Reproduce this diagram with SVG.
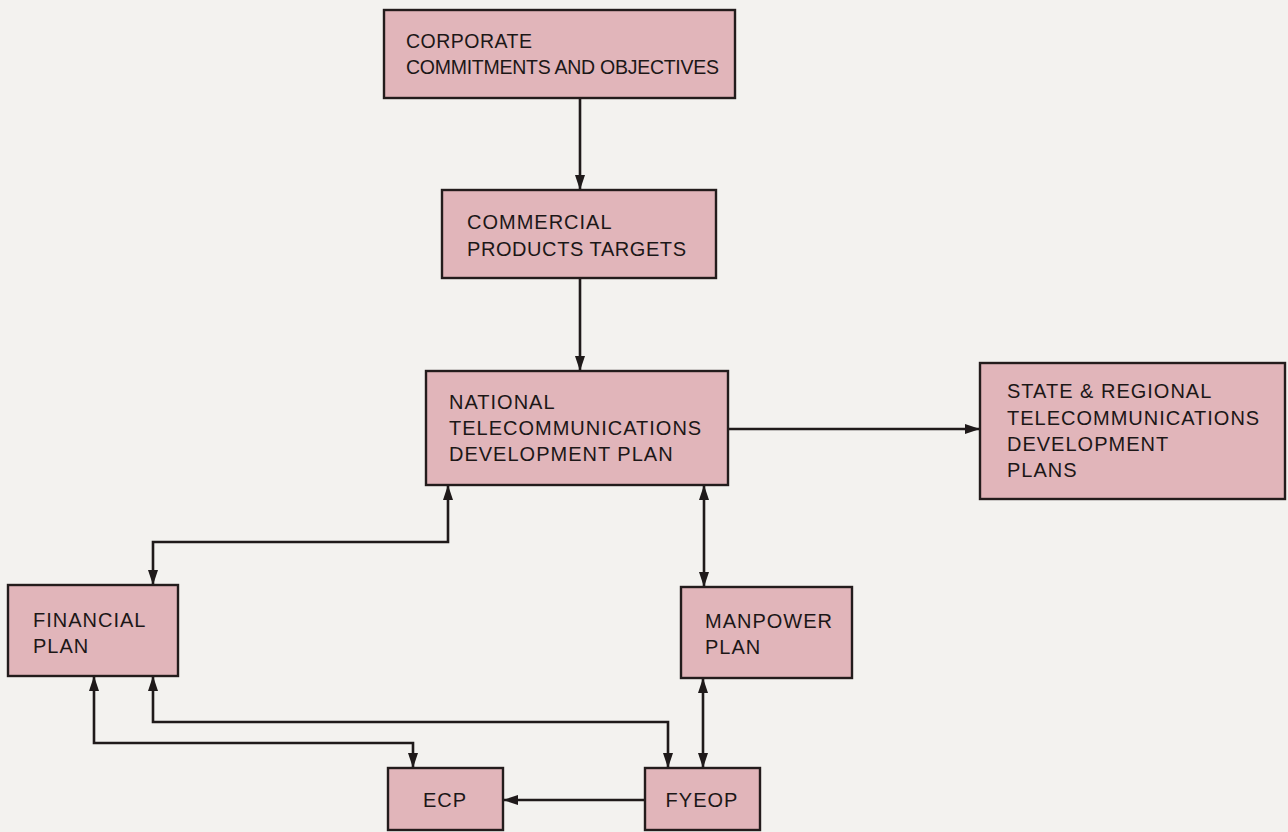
<svg xmlns="http://www.w3.org/2000/svg" width="1288" height="832" viewBox="0 0 1288 832">
<style>
.bg{fill:#f3f2ef}
.box{fill:#e1b5ba;stroke:#231c1c;stroke-width:2.4}
.t{font-family:"Liberation Sans",Arial,sans-serif;font-size:20px;letter-spacing:1px;fill:#1c1717}
.tc{font-family:"Liberation Sans",Arial,sans-serif;font-size:19.5px;fill:#1c1717}
.mid{text-anchor:middle}
.c{fill:none;stroke:#1f1a1a;stroke-width:2.6}
</style>
<defs>
<marker id="ah" viewBox="0 0 15 10" refX="15" refY="5" markerWidth="15" markerHeight="10" markerUnits="userSpaceOnUse" orient="auto-start-reverse">
<path d="M0,0 L15,5 L0,10 z" fill="#1f1a1a"/>
</marker>
</defs>
<rect class="bg" x="0" y="0" width="1288" height="832"/>
<g id="connectors">
<path class="c" d="M580,98 V190" marker-end="url(#ah)"/>
<path class="c" d="M580,278 V371" marker-end="url(#ah)"/>
<path class="c" d="M728,429 H980" marker-end="url(#ah)"/>
<path class="c" d="M448,485 V542 H153 V585" marker-start="url(#ah)" marker-end="url(#ah)"/>
<path class="c" d="M704,485 V587" marker-start="url(#ah)" marker-end="url(#ah)"/>
<path class="c" d="M153,676 V722 H668 V768" marker-start="url(#ah)" marker-end="url(#ah)"/>
<path class="c" d="M94,676 V743 H413 V768" marker-start="url(#ah)" marker-end="url(#ah)"/>
<path class="c" d="M703,678 V768" marker-start="url(#ah)" marker-end="url(#ah)"/>
<path class="c" d="M645,800 H503" marker-end="url(#ah)"/>
</g>
<g id="corporate">
<rect class="box" x="384" y="10" width="351" height="88"/>
<text class="tc" x="406" y="48" textLength="126" lengthAdjust="spacing">CORPORATE</text>
<text class="tc" x="406" y="74" textLength="313" lengthAdjust="spacing">COMMITMENTS AND OBJECTIVES</text>
</g>
<g id="commercial">
<rect class="box" x="442" y="190" width="274" height="88"/>
<text class="t" x="467" y="229">COMMERCIAL</text>
<text class="t" x="467" y="256" textLength="220" lengthAdjust="spacing">PRODUCTS TARGETS</text>
</g>
<g id="national">
<rect class="box" x="426" y="371" width="302" height="114"/>
<text class="t" x="449" y="409">NATIONAL</text>
<text class="t" x="449" y="435">TELECOMMUNICATIONS</text>
<text class="t" x="449" y="461">DEVELOPMENT PLAN</text>
</g>
<g id="state">
<rect class="box" x="980" y="363" width="305" height="136"/>
<text class="t" x="1007" y="398">STATE &amp; REGIONAL</text>
<text class="t" x="1007" y="425">TELECOMMUNICATIONS</text>
<text class="t" x="1007" y="451">DEVELOPMENT</text>
<text class="t" x="1007" y="477">PLANS</text>
</g>
<g id="financial">
<rect class="box" x="8" y="585" width="170" height="91"/>
<text class="t" x="33" y="627">FINANCIAL</text>
<text class="t" x="33" y="653">PLAN</text>
</g>
<g id="manpower">
<rect class="box" x="681" y="587" width="171" height="91"/>
<text class="t" x="705" y="628">MANPOWER</text>
<text class="t" x="705" y="654">PLAN</text>
</g>
<g id="ecp">
<rect class="box" x="388" y="768" width="115" height="62"/>
<text class="t mid" x="445" y="807">ECP</text>
</g>
<g id="fyeop">
<rect class="box" x="645" y="768" width="115" height="62"/>
<text class="t mid" x="702" y="807">FYEOP</text>
</g>
</svg>
